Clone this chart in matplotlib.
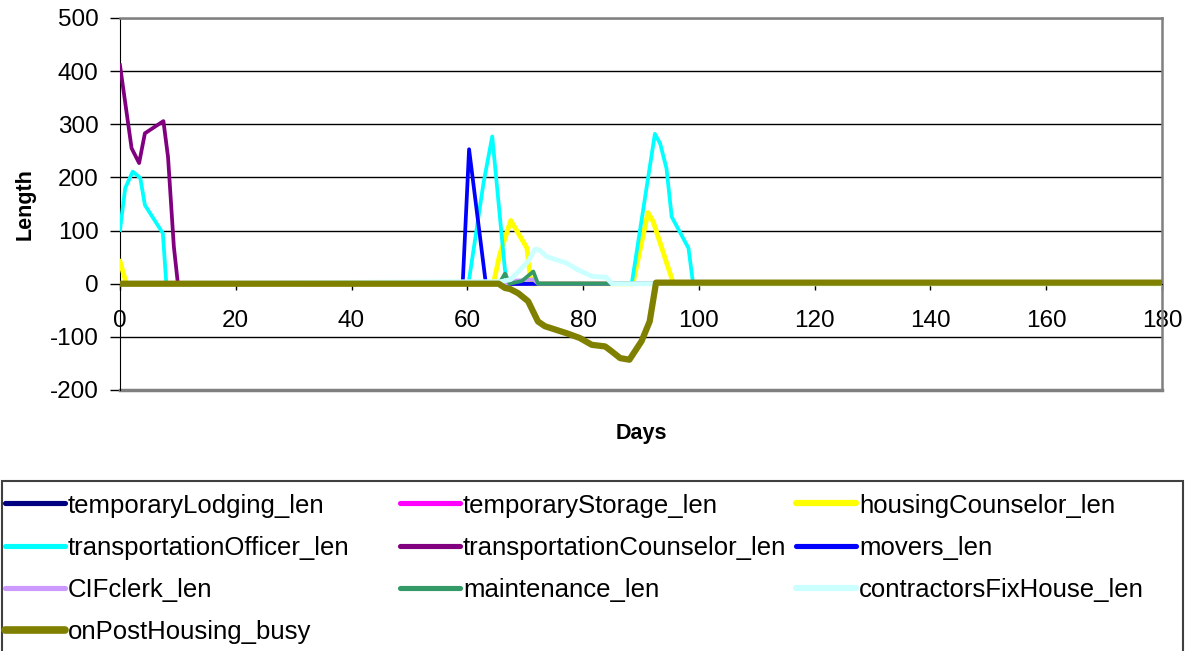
#!/usr/bin/env python3
"""Queue lengths over simulated days (Excel-style line chart)."""

import matplotlib

matplotlib.use('Agg')
import matplotlib.pyplot as plt
from matplotlib.lines import Line2D
from matplotlib.patches import Rectangle

plt.rcParams['font.family'] = ['Liberation Sans', 'DejaVu Sans']
plt.rcParams['axes.unicode_minus'] = False

# zero baseline for queues that never show up
zero_days = [0, 180]
zero_vals = [0, 0]

housing_days = [0, 1.1, 64.5, 65.6, 67.5, 70.3, 71, 88.6, 91.2, 92.1, 95.6, 180]
housing_vals = [42, 0, 0, 55, 119, 67, 0, 0, 134, 117, 0, 0]

officer_days = [0, 0.9, 2.2, 3.5, 4.3, 7.4, 8, 60.2, 62.8, 64.3, 66.5, 67,
                88.4, 92.4, 93.3, 94.4, 95.3, 98.2, 99, 180]
officer_vals = [101, 180, 211, 199, 148, 95, 0, 0, 190, 277, 26, 0,
                0, 282, 264, 217, 126, 67, 0, 0]

tcounselor_days = [0, 2, 3.3, 4.3, 7.5, 8.3, 9.3, 10, 180]
tcounselor_vals = [411, 255, 227, 283, 306, 238, 70, 0, 0]

movers_days = [0, 59.2, 60.3, 63.2, 180]
movers_vals = [0, 0, 253, 0, 0]

clerk_days = [0, 67.3, 68.5, 71.4, 72.2, 180]
clerk_vals = [0, 0, 6, 8, 0, 0]

maint_days = [0, 65.5, 66.5, 67.3, 69.4, 71.4, 72.2, 85, 180]
maint_vals = [0, 0, 19, 0, 5, 23, 0, 0, 0]

contractor_days = [0, 65.9, 67.5, 70.5, 71.7, 72.5, 73.7, 77.1, 79.1, 81.5,
                   84, 85, 180]
contractor_vals = [0, 4, 8, 42, 65, 63, 51, 39, 26, 14, 12, 0, 0]

busy_days = [0, 65.4, 66.5, 67.4, 68.8, 70.5, 72.2, 73.4, 77.1, 79.4, 81.5,
             83.8, 84.9, 86.4, 88, 90.1, 91.5, 92.6, 180]
busy_vals = [0, 0, -8, -10, -18, -33, -71, -80, -93, -102, -115,
             -118, -127, -140, -143, -108, -71, 2, 2]

series = [
    ('temporaryLodging_len', zero_days, zero_vals, '#000080', 2.7),
    ('temporaryStorage_len', zero_days, zero_vals, '#FF00FF', 2.7),
    ('housingCounselor_len', housing_days, housing_vals, '#FFFF00', 3.5),
    ('transportationOfficer_len', officer_days, officer_vals, '#00FFFF', 2.7),
    ('transportationCounselor_len', tcounselor_days, tcounselor_vals, '#800080', 2.7),
    ('movers_len', movers_days, movers_vals, '#0000FF', 2.7),
    ('CIFclerk_len', clerk_days, clerk_vals, '#CC99FF', 2.7),
    ('maintenance_len', maint_days, maint_vals, '#339966', 2.7),
    ('contractorsFixHouse_len', contractor_days, contractor_vals, '#CCFFFF', 3.5),
    ('onPostHousing_busy', busy_days, busy_vals, '#808000', 4.5),
]

W, H = 1190, 651
fig = plt.figure(figsize=(W / 100, H / 100), dpi=100)
ax = fig.add_axes([120 / W, 1 - 390 / H, 1042 / W, 372 / H])

for name, xs, ys, color, lw in series:
    ax.plot(xs, ys, color=color, lw=lw, label=name, zorder=3)

ax.set_xlim(0, 180)
ax.set_ylim(-200, 500)
ax.set_yticks(range(-200, 501, 100))
ax.set_xticks(range(0, 181, 20))
ax.grid(axis='y', color='black', lw=1)
ax.set_axisbelow(True)

for side in ('top', 'right'):
    ax.spines[side].set_color('#808080')
    ax.spines[side].set_linewidth(1.8)
ax.spines['left'].set_color('black')
ax.spines['bottom'].set_position(('data', 0))
ax.spines['bottom'].set_color('black')
ax.axhline(-200, color='#808080', lw=2.5, clip_on=False, zorder=2)

ax.tick_params(axis='y', length=7, width=1, labelsize=17.5, pad=8.5)
ax.tick_params(axis='x', length=4, width=1, labelsize=17.5, pad=15)

fig.text(25 / W, 1 - 204 / H, 'Length', rotation=90, ha='center', va='center',
         fontsize=15.5, fontweight='bold')
fig.text(641 / W, 1 - 434 / H, 'Days', ha='center', va='center',
         fontsize=15.5, fontweight='bold')

# Excel-style legend box: 3 columns, filled row by row
fig.add_artist(Rectangle((2 / W, -0.05), 1181 / W, 1 - 481 / H + 0.05,
                         transform=fig.transFigure, facecolor='white',
                         edgecolor='#404040', lw=1.5))
col_x = [5, 400, 796]
row_y = [503, 546, 588, 630]
for i, (name, xs, ys, color, lw) in enumerate(series):
    x0 = col_x[i % 3]
    y0 = 1 - row_y[i // 3] / H
    fig.add_artist(Line2D([x0 / W, (x0 + 60) / W], [y0, y0], color=color,
                          lw=lw + 1.0, solid_capstyle='round',
                          transform=fig.transFigure))
    fig.text((x0 + 63) / W, y0, name, ha='left', va='center_baseline',
             fontsize=18.5)

fig.savefig('out.png', dpi=100)
